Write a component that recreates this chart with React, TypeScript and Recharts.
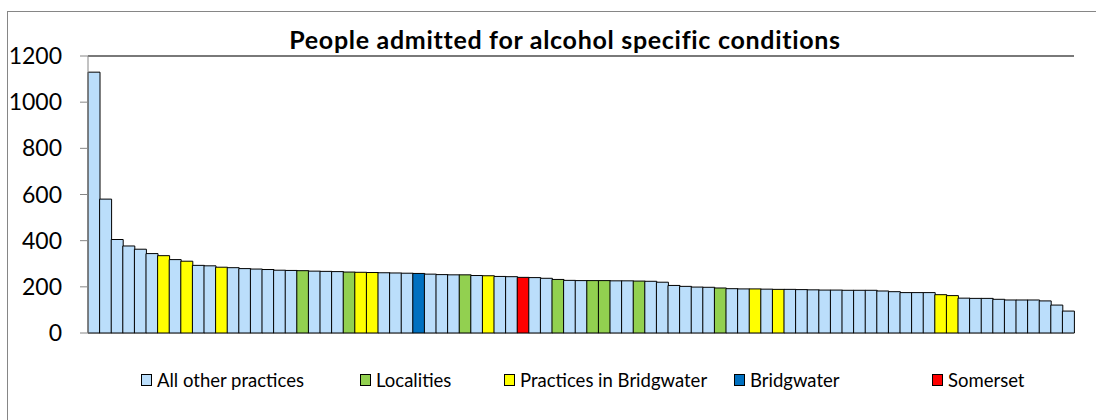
import React from 'react';
import { BarChart, Bar, Cell, XAxis, YAxis, CartesianGrid, ReferenceLine, Legend } from 'recharts';

// admissions per practice / area, sorted high to low
const admissions = [
  1130, 580, 405, 377, 363, 344, 335, 318, 311, 293,
  291, 285, 283, 279, 277, 275, 272, 271, 270, 268,
  267, 266, 264, 263, 262, 261, 260, 259, 258, 255,
  253, 252, 252, 249, 248, 245, 244, 241, 240, 237,
  232, 228, 227, 227, 227, 226, 226, 225, 224, 220,
  206, 202, 199, 198, 195, 192, 191, 191, 190, 189,
  189, 188, 187, 186, 186, 185, 185, 185, 182, 179,
  175, 175, 175, 166, 162, 151, 150, 150, 146, 143,
  143, 143, 139, 121, 95,
];

// o = all other practices, l = localities, p = practices in Bridgwater, b = Bridgwater, s = Somerset
const barGroups = [
  'o', 'o', 'o', 'o', 'o', 'o', 'p', 'o', 'p', 'o',
  'o', 'p', 'o', 'o', 'o', 'o', 'o', 'o', 'l', 'o',
  'o', 'o', 'l', 'p', 'p', 'o', 'o', 'o', 'b', 'o',
  'o', 'o', 'l', 'o', 'p', 'o', 'o', 's', 'o', 'o',
  'l', 'o', 'o', 'l', 'l', 'o', 'o', 'l', 'o', 'o',
  'o', 'o', 'o', 'o', 'l', 'o', 'o', 'p', 'o', 'p',
  'o', 'o', 'o', 'o', 'o', 'o', 'o', 'o', 'o', 'o',
  'o', 'o', 'o', 'p', 'p', 'o', 'o', 'o', 'o', 'o',
  'o', 'o', 'o', 'o', 'o',
];

const groupKeys = ['o', 'l', 'p', 'b', 's'];
const groupLabels = ['All other practices', 'Localities', 'Practices in Bridgwater', 'Bridgwater', 'Somerset'];
const yTicks = [0, 200, 400, 600, 800, 1000, 1200];

const COLORS: Record<string, string> = {
  o: '#BBDEFB',
  l: '#92D050',
  p: '#FFFF00',
  b: '#0070C0',
  s: '#FF0000',
};

const LEGEND_X = [141, 360, 504, 734, 932];

const data = admissions.map((v, i) => ({ name: `P${i + 1}`, value: v, group: barGroups[i] }));

const font = 'Lato, "Open Sans", sans-serif';

const renderLegend = () => (
  <div style={{ position: 'relative', height: 0 }}>
    {groupKeys.map((k, i) => (
      <div
        key={k}
        style={{
          position: 'absolute',
          left: LEGEND_X[i],
          top: 0,
          display: 'flex',
          alignItems: 'center',
          whiteSpace: 'nowrap',
          fontFamily: font,
          fontSize: 18.5,
          lineHeight: '20px',
          color: '#000',
        }}
      >
        <span
          style={{
            display: 'inline-block',
            width: 9,
            height: 10,
            background: COLORS[k],
            border: '1px solid #000',
            marginRight: 5,
          }}
        />
        {groupLabels[i]}
      </div>
    ))}
  </div>
);

export default function App() {
  return (
    <div style={{ position: 'absolute', left: 0, top: 0, width: 1096, height: 420, background: '#fff', overflow: 'hidden' }}>
      <div
        style={{
          position: 'absolute',
          left: 7,
          top: 11,
          width: 1200,
          height: 500,
          border: '1px solid #868686',
        }}
      />
      <div
        style={{
          position: 'absolute',
          left: 0,
          top: 25,
          width: 1130,
          textAlign: 'center',
          fontFamily: font,
          fontWeight: 700,
          fontSize: 25,
          lineHeight: '28px',
          letterSpacing: 0.7,
          color: '#000',
        }}
      >
        People admitted for alcohol specific conditions
      </div>
      <div style={{ position: 'absolute', left: 0, top: 0 }}>
        <BarChart
          width={1096}
          height={420}
          data={data}
          margin={{ top: 56, right: 22, bottom: 87, left: 0 }}
          barCategoryGap={0}
        >
          <CartesianGrid vertical={false} stroke="#B3B3B3" strokeWidth={1.2} />
          <XAxis dataKey="name" tick={false} tickLine={false} height={0} axisLine={{ stroke: '#404040' }} />
          <YAxis
            yAxisId="left"
            domain={[0, 1200]}
            ticks={yTicks}
            width={88}
            tickSize={8}
            tickMargin={18}
            interval={0}
            axisLine={{ stroke: '#868686' }}
            tickLine={{ stroke: '#868686' }}
            tick={{ fontFamily: font, fontSize: 23, fill: '#000' }}
          />
          <YAxis
            yAxisId="right"
            orientation="right"
            width={0}
            tick={false}
            tickLine={false}
            axisLine={{ stroke: '#595959', strokeWidth: 1.5 }}
          />
          <ReferenceLine yAxisId="left" y={1200} stroke="#595959" strokeWidth={1.5} />
          <Bar yAxisId="left" dataKey="value" stroke="#000" strokeWidth={1} isAnimationActive={false}>
            {data.map((d) => (
              <Cell key={d.name} fill={COLORS[d.group]} />
            ))}
          </Bar>
          <Legend content={renderLegend} wrapperStyle={{ top: 370, left: 0, width: 1096 }} />
        </BarChart>
      </div>
    </div>
  );
}
